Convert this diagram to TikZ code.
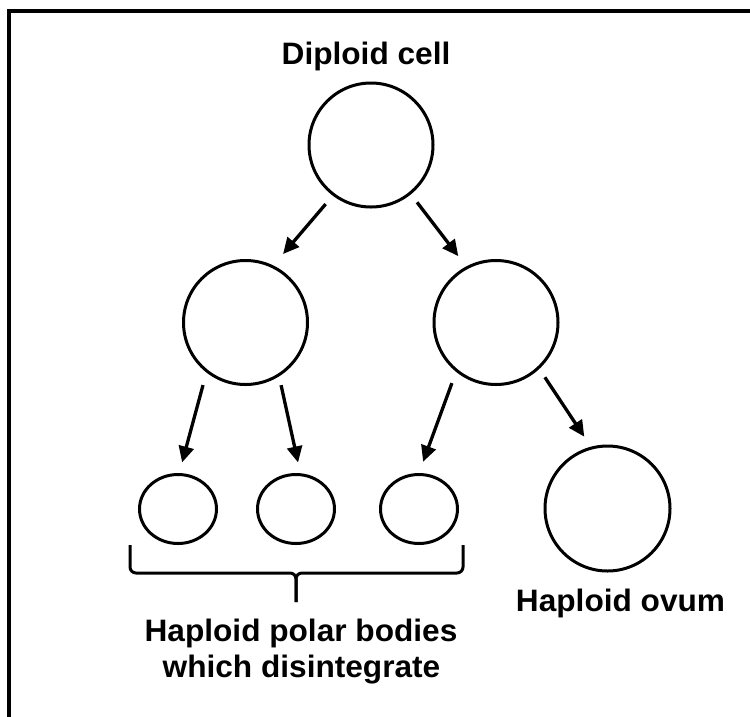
\documentclass[tikz,border=0pt]{standalone}
\usepackage{fontspec}
\setmainfont{Liberation Sans}[FakeStretch=1.02]
\usetikzlibrary{arrows.meta,shapes.geometric}
\begin{document}
\begin{tikzpicture}[x=1pt,y=1pt,
  cell/.style={circle,draw,line width=3pt,minimum size=124pt,inner sep=0pt},
  polar/.style={ellipse,draw,line width=3pt,minimum width=77pt,minimum height=69pt,inner sep=0pt},
  arr/.style={line width=3.3pt,-{Triangle[length=16pt,width=15pt]}},
  lbl/.style={font=\fontsize{31}{36}\selectfont\bfseries,inner sep=0pt,anchor=base},
  bracepath/.style={line width=3pt,rounded corners=6pt}]
\useasboundingbox (0,0) rectangle (750,-716);
\fill[white] (0,0) rectangle (750,-716);
\draw[line width=4pt] (9,-720) -- (9,-11) -- (754,-11);
% cells
\node[cell] (d) at (371,-145) {};
\node[cell] (ml) at (245.5,-322.5) {};
\node[cell] (mr) at (496,-322.5) {};
\node[polar] (e1) at (178,-509) {};
\node[polar] (e2) at (296,-509) {};
\node[polar] (e3) at (419,-509) {};
\node[cell,minimum size=125pt] (ov) at (607.5,-508.5) {};
% arrows
\draw[arr,shorten <=11pt,shorten >=15pt] (d.-127) -- (ml.64);
\draw[arr,shorten <=10pt,shorten >=13pt] (d.-51) -- (mr.118);
\draw[arr,shorten <=13pt,shorten >=11pt] (ml.-128) -- (e1.88);
\draw[arr,shorten <=9pt,shorten >=11pt] (ml.-58) -- (e2.83);
\draw[arr,shorten <=12pt,shorten >=12pt] (mr.-129) -- (e3.90);
\draw[arr,shorten <=10pt,shorten >=12pt] (mr.-47) -- (ov.105);
% brace
\coordinate (bl) at (130,-545);
\coordinate (br) at (463,-545);
\coordinate (bt) at (296,-602);
\draw[bracepath] (bl) -- (130,-573) -- (296,-573) -- (bt);
\draw[bracepath] (br) -- (463,-573) -- (296,-573) -- (bt);
% labels
\node[lbl] (t1) at (366,-64) {Diploid cell};
\node[lbl] (t2) at (620.5,-611) {Haploid ovum};
\node[lbl] (t3) at (301,-641) {Haploid polar bodies};
\node[lbl] (t4) at (301.5,-677) {which disintegrate};
\end{tikzpicture}
\end{document}
